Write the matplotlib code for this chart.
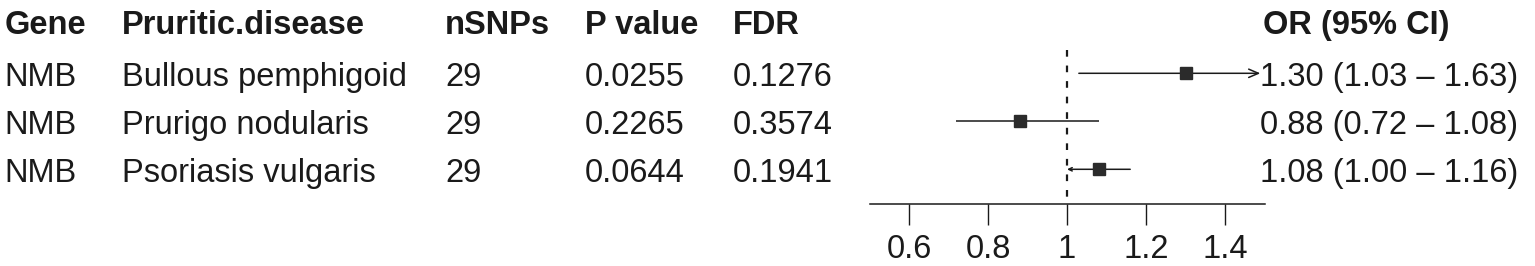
import matplotlib.pyplot as plt
import numpy as np

# Data
genes = ['NMB', 'NMB', 'NMB']
diseases = ['Bullous pemphigoid', 'Prurigo nodularis', 'Psoriasis vulgaris']
nsnps = [29, 29, 29]
p_values = ['0.0255', '0.2265', '0.0644']
fdr = ['0.1276', '0.3574', '0.1941']
or_est = [1.30, 0.88, 1.08]
ci_low = [1.03, 0.72, 1.00]
ci_high = [1.63, 1.08, 1.16]
headers = ['Gene', 'Pruritic.disease', 'nSNPs', 'P value', 'FDR']
x_ticks = [0.6, 0.8, 1.0, 1.2, 1.4]
tick_labels = ['0.6', '0.8', '1', '1.2', '1.4']
xlim = (0.5, 1.5)

W, H = 1535, 266
TEXT = '#1a1a1a'
BOX = '#2b2b2b'
FS = 23.5
plt.rcParams['font.family'] = ['Liberation Sans', 'DejaVu Sans']

fig = plt.figure(figsize=(W / 100, H / 100), dpi=100)

# layout (pixels from top): row i line at row0 + step*i
row0, step = 25.3, 48.0
base_off = 13.0      # text baseline below the row line
header_base = 34.0

ax_tab = fig.add_axes([0, 0, 1, 1])
ax_tab.set_xlim(0, W)
ax_tab.set_ylim(H, 0)
ax_tab.axis('off')

col_x = [4.5, 122, 445, 585, 733]
for x, h in zip(col_x, headers):
    ax_tab.text(x, header_base, h, fontsize=FS, fontweight='bold', color=TEXT, va='baseline')
ax_tab.text(1263, header_base, 'OR (95% CI)', fontsize=FS, fontweight='bold',
            color=TEXT, va='baseline')

for i in range(len(genes)):
    yb = row0 + step * (i + 1) + base_off
    vals = [genes[i], diseases[i], str(nsnps[i]), p_values[i], fdr[i]]
    for x, v in zip(col_x, vals):
        ax_tab.text(x, yb, v, fontsize=FS, color=TEXT, va='baseline')
    label = f'{or_est[i]:.2f} ({ci_low[i]:.2f} \u2013 {ci_high[i]:.2f})'
    ax_tab.text(1260, yb, label, fontsize=FS, color=TEXT, va='baseline')

# Forest panel
axis_px = 204
ax = fig.add_axes([869.5 / W, 1 - axis_px / H, 395 / W, axis_px / H])
ax.set_xlim(*xlim)
y_top = -row0 / step
y_bot = (axis_px - row0) / step
ax.set_ylim(y_bot, y_top)
ax.patch.set_alpha(0)
for s in ['top', 'left', 'right']:
    ax.spines[s].set_visible(False)
ax.spines['bottom'].set_linewidth(1.1)
ax.spines['bottom'].set_color(TEXT)
ax.set_yticks([])
ax.set_xticks(x_ticks)
ax.set_xticklabels(tick_labels, fontsize=FS, color=TEXT)
ax.tick_params(axis='x', direction='out', length=15, width=1.0, pad=6.5, colors=TEXT)

dash_top = (50 - row0) / step
ax.vlines(1, dash_top, y_bot, colors=TEXT, linestyles=(0, (3.0, 4.0)), linewidth=1.6)

for i in range(len(or_est)):
    y = i + 1
    lo = max(ci_low[i], xlim[0])
    hi = min(ci_high[i], xlim[1])
    if ci_high[i] > xlim[1]:
        ax.annotate('', xy=(hi, y), xytext=(lo, y),
                    arrowprops=dict(arrowstyle='->,head_length=0.7,head_width=0.3',
                                    color=TEXT, lw=1.1, shrinkA=0, shrinkB=3),
                    annotation_clip=False)
    elif ci_low[i] == 1.0:
        ax.annotate('', xy=(lo, y), xytext=(hi, y),
                    arrowprops=dict(arrowstyle='->,head_length=0.25,head_width=0.12',
                                    color=TEXT, lw=1.1, shrinkA=0, shrinkB=0))
    else:
        ax.hlines(y, lo, hi, colors=TEXT, linewidth=1.1)
    ax.plot(or_est[i], y, marker='s', markersize=8.6, color=BOX, zorder=3)

fig.savefig('out.png', dpi=100)
